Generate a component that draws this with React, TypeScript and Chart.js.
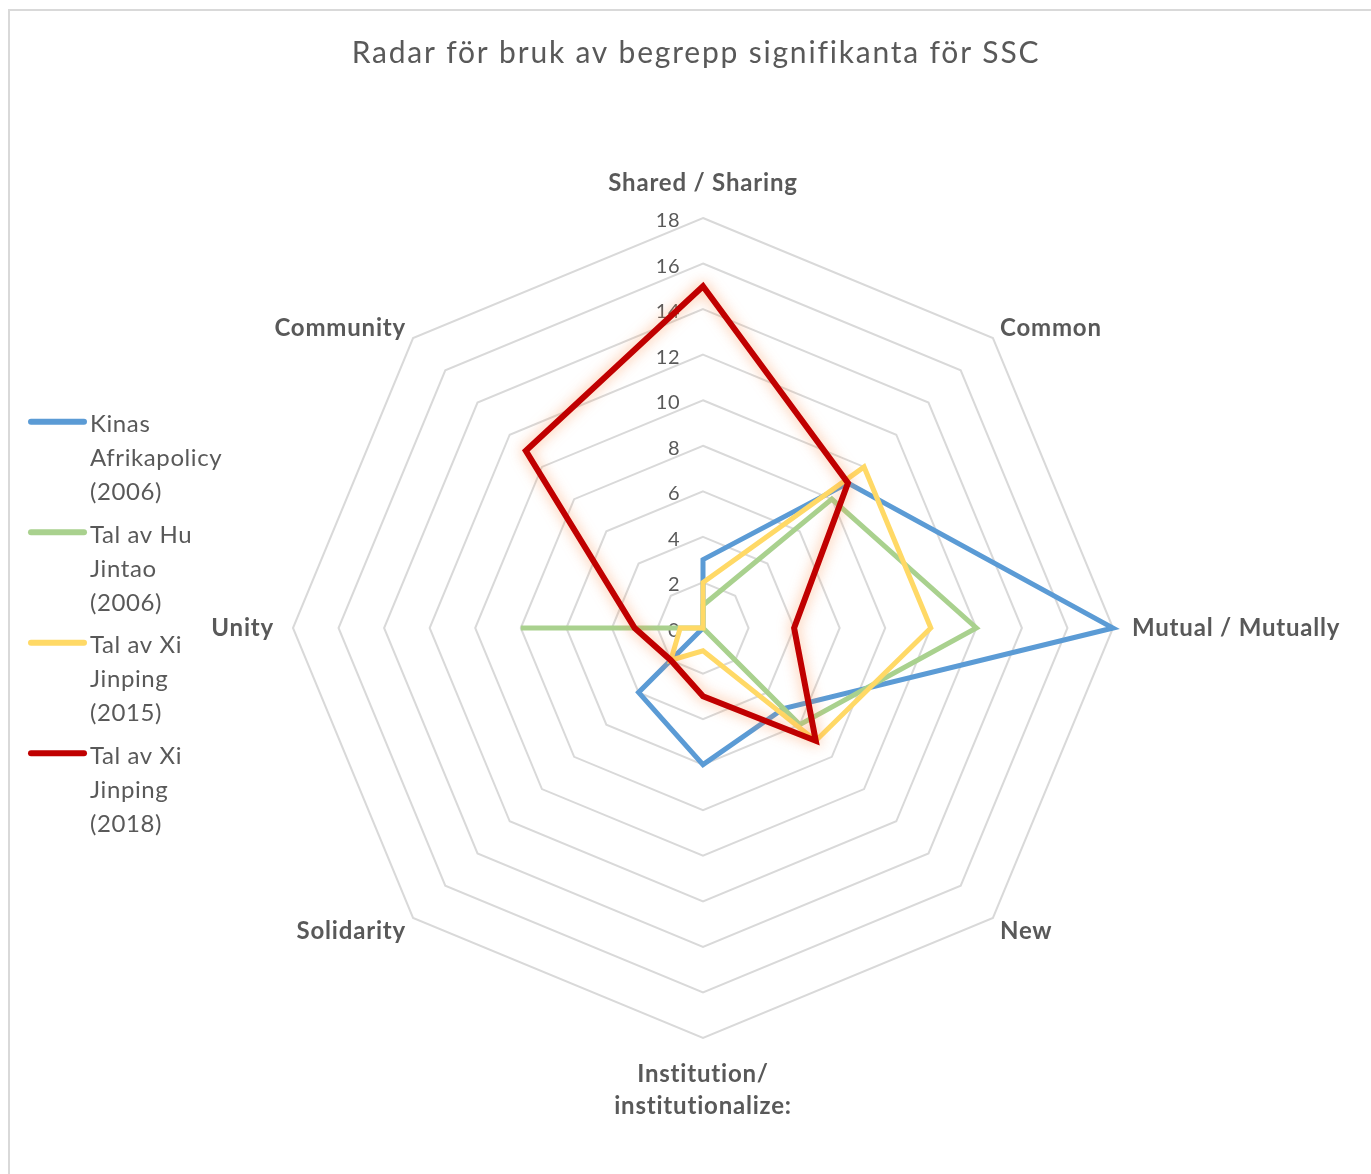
import React, { useEffect, useRef } from 'react';
import { Chart, registerables } from 'chart.js';

Chart.register(...registerables);

const TITLE = 'Radar för bruk av begrepp signifikanta för SSC';
const categories: (string | string[])[] = [
  'Shared / Sharing',
  'Common',
  'Mutual / Mutually',
  'New',
  ['Institution/', 'institutionalize:'],
  'Solidarity',
  'Unity',
  'Community',
];
const seriesNames = [
  'Kinas Afrikapolicy (2006)',
  'Tal av Hu Jintao (2006)',
  'Tal av Xi Jinping (2015)',
  'Tal av Xi Jinping (2018)',
];
const legendLines = [
  ['Kinas', 'Afrikapolicy', '(2006)'],
  ['Tal av Hu', 'Jintao', '(2006)'],
  ['Tal av Xi', 'Jinping', '(2015)'],
  ['Tal av Xi', 'Jinping', '(2018)'],
];
const kinasAfrikapolicy2006 = [3, 9, 18, 5, 6, 4, 0, 0];
const huJintao2006 = [1, 8, 12, 6, 0, 0, 8, 0];
const xiJinping2015 = [2, 10, 10, 7, 1, 2, 1, 0];
const xiJinping2018 = [15, 9, 4, 7, 3, 2, 3, 11];
const seriesColors = ['#5B9BD5', '#A9D18E', '#FFD966', '#C00000'];
const scaleMin = 0;
const scaleMax = 18;
const scaleStep = 2;

const OX = 100; // canvas shifted left by this many px
const TEXT = '#595959';
const FONT = 'Lato, "Open Sans", sans-serif';

const setSpacing = (ctx: any, v: string) => {
  try {
    ctx.letterSpacing = v;
  } catch (e) {
    /* ignore */
  }
};

const decorPlugin = {
  id: 'decor',
  beforeUpdate(chart: any) {
    setSpacing(chart.ctx, '0.8px');
  },
  beforeDraw(chart: any) {
    const ctx = chart.ctx as CanvasRenderingContext2D;
    setSpacing(ctx, '0.8px');
    ctx.save();
    ctx.fillStyle = '#ffffff';
    ctx.fillRect(0, 0, chart.width, chart.height);
    ctx.translate(OX, 0);
    // frame
    ctx.fillStyle = '#d9d9d9';
    ctx.fillRect(8, 9, 2, 1300);
    ctx.fillRect(8, 9, 1700, 2);
    // title
    ctx.fillStyle = TEXT;
    ctx.font = `30px ${FONT}`;
    setSpacing(ctx, '1.8px');
    ctx.textAlign = 'center';
    ctx.textBaseline = 'alphabetic';
    ctx.fillText(TITLE, 696, 63);
    // legend
    ctx.font = `24px ${FONT}`;
    setSpacing(ctx, '0.6px');
    ctx.textAlign = 'left';
    legendLines.forEach((lines, i) => {
      const y = 421.7 + i * 110.5;
      ctx.strokeStyle = seriesColors[i];
      ctx.lineWidth = 6;
      ctx.lineCap = 'round';
      ctx.beginPath();
      ctx.moveTo(31, y);
      ctx.lineTo(84, y);
      ctx.stroke();
      ctx.fillStyle = TEXT;
      lines.forEach((t, j) => {
        ctx.fillText(t, 90, y + 10.5 + j * 34);
      });
    });
    ctx.restore();
  },
  beforeDatasetsDraw(chart: any) {
    const scale = chart.scales.r;
    const ctx = chart.ctx as CanvasRenderingContext2D;
    ctx.save();
    setSpacing(ctx, '0.5px');
    ctx.fillStyle = TEXT;
    ctx.font = `20px ${FONT}`;
    ctx.textAlign = 'right';
    ctx.textBaseline = 'alphabetic';
    scale.ticks.forEach((t: any) => {
      const d = scale.getDistanceFromCenterForValue(t.value);
      ctx.fillText(String(t.value), scale.xCenter - 23, scale.yCenter - d + 9);
    });
    ctx.restore();
  },
  beforeDatasetDraw(chart: any, args: any) {
    if (args.index === 3) {
      const ctx = chart.ctx as CanvasRenderingContext2D;
      ctx.save();
      ctx.shadowColor = 'rgba(250, 140, 70, 0.65)';
      ctx.shadowBlur = 14;
      ctx.shadowOffsetX = 0;
      ctx.shadowOffsetY = 0;
    }
  },
  afterDatasetDraw(chart: any, args: any) {
    if (args.index === 3) {
      chart.ctx.restore();
    }
  },
};

export default function App() {
  const ref = useRef<HTMLCanvasElement | null>(null);
  useEffect(() => {
    if (!ref.current) return;
    const seriesData = [kinasAfrikapolicy2006, huJintao2006, xiJinping2015, xiJinping2018];
    const labelPadding = [19, 10, 19, 10, 20, 10, 19, 10];
    const labelLineHeight = [1.333, 0.25, 1.333, 0.5, 1.333, 0.5, 1.333, 0.25];
    const chart = new Chart(ref.current, {
      type: 'radar',
      data: {
        labels: categories as any,
        datasets: seriesData.map((d, i) => ({
          label: seriesNames[i],
          data: d,
          borderColor: seriesColors[i],
          backgroundColor: seriesColors[i],
          borderWidth: i === 3 ? 6 : 5,
          borderJoinStyle: 'miter' as const,
          pointRadius: 0,
          pointHoverRadius: 0,
          fill: false,
          tension: 0,
          order: 4 - i,
        })),
      },
      options: {
        responsive: false,
        animation: false,
        events: [],
        layout: { padding: { left: 43, right: 0, top: 151, bottom: 35 } },
        plugins: {
          legend: { display: false },
          title: { display: false },
          tooltip: { enabled: false },
        },
        scales: {
          r: {
            min: scaleMin,
            max: scaleMax,
            ticks: { stepSize: scaleStep, display: false, showLabelBackdrop: false },
            grid: { color: '#d9d9d9', lineWidth: 2, circular: false },
            angleLines: { display: false },
            pointLabels: {
              display: true,
              color: TEXT,
              font: (ctx: any) => ({
                family: FONT,
                size: 24,
                weight: 'bold',
                lineHeight: labelLineHeight[ctx.index] ?? 1.333,
              }),
              padding: (ctx: any) => labelPadding[ctx.index] ?? 10,
            },
          },
        },
      },
      plugins: [decorPlugin],
    });
    return () => chart.destroy();
  }, []);
  return (
    <div
      style={{
        position: 'fixed',
        left: 0,
        top: 0,
        width: 1371,
        height: 1174,
        overflow: 'hidden',
        background: '#fff',
      }}
    >
      <canvas
        ref={ref}
        width={1563}
        height={1174}
        style={{ position: 'absolute', left: -OX, top: 0 }}
      />
    </div>
  );
}
